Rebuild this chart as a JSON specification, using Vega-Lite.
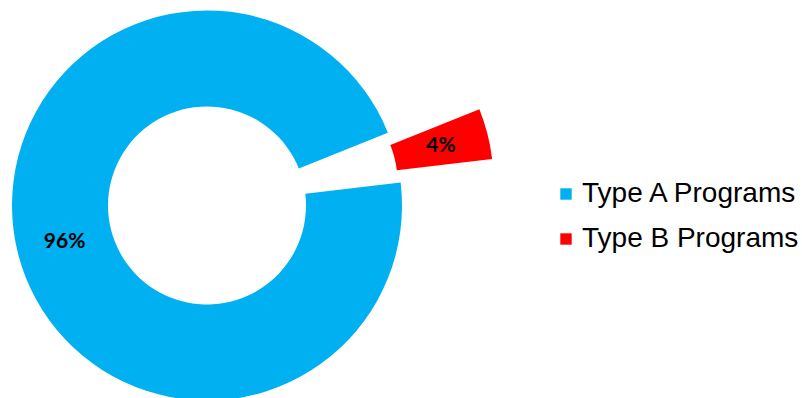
{
  "$schema": "https://vega.github.io/schema/vega-lite/v6.json",
  "width": 802,
  "height": 398,
  "autosize": {"type": "none"},
  "padding": 0,
  "background": "white",
  "config": {"view": {"stroke": null}},
  "data": {
    "values": [
      {"cat": "Type A Programs", "value": 95.8, "label": "96%"},
      {"cat": "Type B Programs", "value": 4.2, "label": "4%"}
    ]
  },
  "encoding": {
    "theta": {"field": "value", "type": "quantitative", "stack": true, "scale": {"range": [1.452, 7.735]}},
    "order": {"field": "cat", "sort": "ascending"}
  },
  "layer": [
    {
      "mark": {"type": "arc", "radius": 195, "radius2": 99, "x": 207, "y": 205.5},
      "encoding": {
        "color": {
          "field": "cat", "type": "nominal",
          "scale": {"domain": ["Type A Programs", "Type B Programs"], "range": ["#00B0F0", "#FF0000"]},
          "legend": {
            "title": null, "orient": "none", "legendX": 552, "legendY": 180,
            "symbolType": "square", "symbolSize": 130, "symbolStrokeWidth": 0,
            "labelFont": "Liberation Sans", "labelFontSize": 28, "labelColor": "#000000",
            "labelOffset": 2, "rowPadding": 17, "padding": 0, "labelLimit": 400
          }
        },
        "opacity": {"condition": {"test": "datum.cat == 'Type B Programs'", "value": 0}, "value": 1}
      }
    },
    {
      "mark": {"type": "arc", "radius": 195, "radius2": 99, "x": 298.5, "y": 182.1},
      "encoding": {
        "color": {"field": "cat", "type": "nominal"},
        "opacity": {"condition": {"test": "datum.cat == 'Type A Programs'", "value": 0}, "value": 1}
      }
    },
    {
      "mark": {"type": "text", "radius": 147, "x": 207, "y": 205.5, "font": "Lato", "fontWeight": "bold", "fontSize": 21, "color": "#000000"},
      "encoding": {
        "text": {"field": "label"},
        "opacity": {"condition": {"test": "datum.cat == 'Type B Programs'", "value": 0}, "value": 1}
      }
    },
    {
      "mark": {"type": "text", "radius": 147, "x": 298.5, "y": 182.1, "font": "Lato", "fontWeight": "bold", "fontSize": 21, "color": "#000000"},
      "encoding": {
        "text": {"field": "label"},
        "opacity": {"condition": {"test": "datum.cat == 'Type A Programs'", "value": 0}, "value": 1}
      }
    }
  ]
}
